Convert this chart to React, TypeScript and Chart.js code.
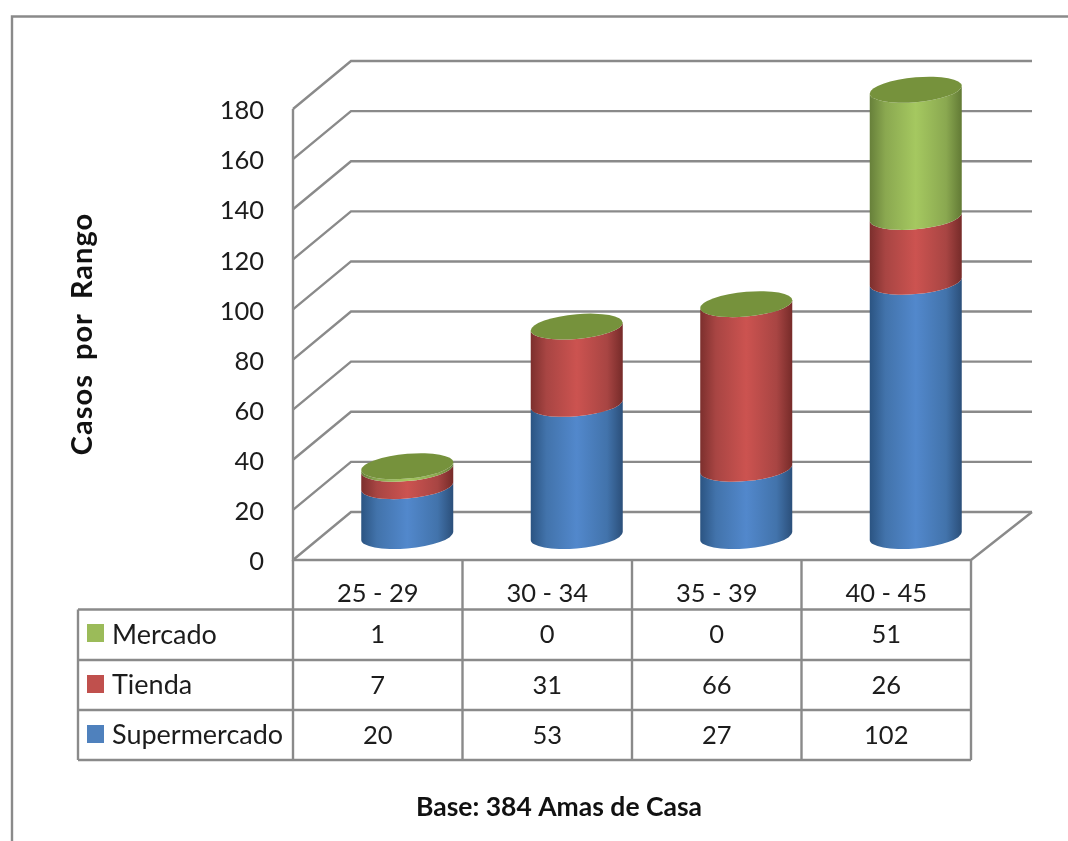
import React, { useEffect, useRef } from "react";
import { Chart, registerables } from "chart.js";

Chart.register(...registerables);

const categories = ["25 - 29", "30 - 34", "35 - 39", "40 - 45"];
const supermercado = [20, 53, 27, 102];
const tienda = [7, 31, 66, 26];
const mercado = [1, 0, 0, 51];
const yMax = 180;
const yStep = 20;
const axisTitle = "Casos por Rango";
const footnote = "Base: 384 Amas de Casa";

const FONT = "Lato, Carlito, sans-serif";
const LINE = "#8a8a8a";
const INK = "#1c1c1c";
const DEPTH_X = 58;
const DEPTH_Y = 48;

// Side shading of each cylinder, from edge to edge, plus the swatch colour.
const palette = {
  Supermercado: { swatch: "#4f81bd", stops: ["#2b5482", "#4273ab", "#5288cc", "#4273ab", "#2b4f7a"] },
  Tienda: { swatch: "#c0504d", stops: ["#7c2f2d", "#a84543", "#cc5350", "#a84543", "#762b29"] },
  Mercado: { swatch: "#9bbb59", stops: ["#67803a", "#8aa850", "#a5c860", "#8aa850", "#627a35"] },
};
const capColor = "#76923c";

const rows = [
  { name: "Mercado", values: mercado, swatchY: 624, textY: 635 },
  { name: "Tienda", values: tienda, swatchY: 675, textY: 685.5 },
  { name: "Supermercado", values: supermercado, swatchY: 725, textY: 735.5 },
];
const rowEdges = [560, 609.5, 660, 710, 760];

function line(ctx: CanvasRenderingContext2D, pts: number[][]) {
  ctx.beginPath();
  pts.forEach(([x, y], i) => (i ? ctx.lineTo(x, y) : ctx.moveTo(x, y)));
  ctx.stroke();
}

const perspectivePlugin = {
  id: "perspective",

  // Outer frame, the walls and floor of the 3D box.
  beforeDatasetsDraw(chart: any) {
    const { ctx, chartArea, scales } = chart;
    const { left, right } = chartArea;
    const y = scales.y;
    ctx.save();
    ctx.strokeStyle = LINE;
    ctx.lineWidth = 2.4;
    line(ctx, [[12, 841], [12, 16.5], [1068, 16.5]]);
    y.ticks.forEach((t: any) => {
      const py = y.getPixelForValue(t.value);
      line(ctx, [[left, py], [left + DEPTH_X, py - DEPTH_Y], [right + DEPTH_X + 3, py - DEPTH_Y]]);
    });
    const floor = y.getPixelForValue(0);
    line(ctx, [[left, y.getPixelForValue(yMax)], [left, floor], [right, floor], [right + DEPTH_X + 3, floor - DEPTH_Y]]);
    ctx.restore();
  },

  // The bars are replaced by cylinders built in afterDatasetsDraw.
  beforeDatasetDraw() {
    return false;
  },

  afterDatasetsDraw(chart: any) {
    const { ctx, scales } = chart;
    const rx = 46;
    const ry = 12.4;
    const shear = 0.085;
    const count = chart.data.datasets.length;
    const zero = scales.y.getPixelForValue(0);
    // Cylinders stand on the middle of the floor, a little foreshortened.
    const place = (py: number) => zero - (zero - py) * 0.995 - 24;
    ctx.save();
    chart.data.labels.forEach((_: string, i: number) => {
      for (let d = 0; d < count; d++) {
        const el = chart.getDatasetMeta(d).data[i];
        const name = chart.data.datasets[d].label as keyof typeof palette;
        const cx = el.x + 29.5;
        const yBase = place(el.base);
        const yTop = place(el.y);
        ctx.save();
        ctx.transform(1, -shear, 0, 1, cx, 0);
        if (yBase - yTop > 0.01) {
          const g = ctx.createLinearGradient(-rx, 0, rx, 0);
          palette[name].stops.forEach((c, k) => g.addColorStop([0, 0.17, 0.5, 0.83, 1][k], c));
          ctx.fillStyle = g;
          ctx.beginPath();
          ctx.moveTo(-rx, yTop);
          ctx.lineTo(-rx, yBase);
          ctx.ellipse(0, yBase, rx, ry, 0, Math.PI, 0, true);
          ctx.lineTo(rx, yTop);
          ctx.ellipse(0, yTop, rx, ry, 0, 0, Math.PI, false);
          ctx.closePath();
          ctx.fill();
        }
        if (d === count - 1) {
          ctx.fillStyle = capColor;
          ctx.beginPath();
          ctx.ellipse(0, yTop, rx, ry, 0, 0, Math.PI * 2);
          ctx.fill();
        }
        ctx.restore();
      }
    });
    ctx.restore();
  },

  // Data table under the axis, legend keys, axis title and footnote.
  afterDraw(chart: any) {
    const { ctx, chartArea, scales } = chart;
    const { left, right } = chartArea;
    const x = scales.x;
    const step = (right - left) / categories.length;
    ctx.save();
    ctx.strokeStyle = LINE;
    ctx.lineWidth = 2.4;
    for (let c = 0; c <= categories.length; c++) {
      const px = x.getPixelForValue(0) - step / 2 + c * step;
      line(ctx, [[px, rowEdges[0]], [px, rowEdges[rowEdges.length - 1]]]);
    }
    rowEdges.slice(1).forEach((ry) => line(ctx, [[78, ry], [right, ry]]));
    line(ctx, [[78, rowEdges[1]], [78, rowEdges[rowEdges.length - 1]]]);

    ctx.textBaseline = "middle";
    rows.forEach((r) => {
      ctx.fillStyle = INK;
      ctx.font = `25.5px ${FONT}`;
      ctx.textAlign = "center";
      r.values.forEach((v, i) => ctx.fillText(String(v), x.getPixelForValue(i), r.textY));
      ctx.font = `27px ${FONT}`;
      ctx.textAlign = "left";
      ctx.fillText(r.name, 112, r.textY);
      ctx.fillStyle = palette[r.name as keyof typeof palette].swatch;
      ctx.fillRect(87, r.swatchY, 17, 18);
    });

    ctx.fillStyle = "#111111";
    ctx.font = `bold 26.5px ${FONT}`;
    ctx.textAlign = "center";
    ctx.fillText(footnote, 559, 807);

    ctx.save();
    ctx.translate(83, 334);
    ctx.rotate(-Math.PI / 2);
    ctx.font = `bold 29px ${FONT}`;
    (ctx as any).letterSpacing = "1px";
    (ctx as any).wordSpacing = "6px";
    ctx.fillText(axisTitle, 0, 0);
    ctx.restore();
    ctx.restore();
  },
};

export default function App() {
  const ref = useRef<HTMLCanvasElement>(null);

  useEffect(() => {
    const chart = new Chart(ref.current!, {
      type: "bar",
      data: {
        labels: categories,
        datasets: [
          { label: "Supermercado", data: supermercado, backgroundColor: palette.Supermercado.swatch },
          { label: "Tienda", data: tienda, backgroundColor: palette.Tienda.swatch },
          { label: "Mercado", data: mercado, backgroundColor: palette.Mercado.swatch },
        ],
      },
      options: {
        responsive: false,
        animation: false,
        layout: { padding: { top: 109, right: 97, left: 0, bottom: 0 } },
        datasets: { bar: { barPercentage: 0.543, categoryPercentage: 1 } },
        plugins: { legend: { display: false }, tooltip: { enabled: false } },
        scales: {
          x: {
            stacked: true,
            grid: { display: false },
            border: { display: false },
            afterFit: (s: any) => {
              s.height = 281;
            },
            ticks: {
              padding: 10,
              maxRotation: 0,
              color: INK,
              font: { family: FONT, size: 25.5 },
            },
          },
          y: {
            stacked: true,
            min: 0,
            max: yMax,
            grid: { display: false },
            border: { display: false },
            afterFit: (s: any) => {
              s.width = 293;
            },
            ticks: {
              stepSize: yStep,
              padding: 21,
              labelOffset: 2,
              color: INK,
              font: { family: FONT, size: 25.5 },
            },
          },
        },
      },
      plugins: [perspectivePlugin],
    } as any);
    return () => chart.destroy();
  }, []);

  return (
    <canvas
      ref={ref}
      width={1068}
      height={841}
      style={{ position: "fixed", left: 0, top: 0, width: 1068, height: 841, background: "#ffffff" }}
    />
  );
}
